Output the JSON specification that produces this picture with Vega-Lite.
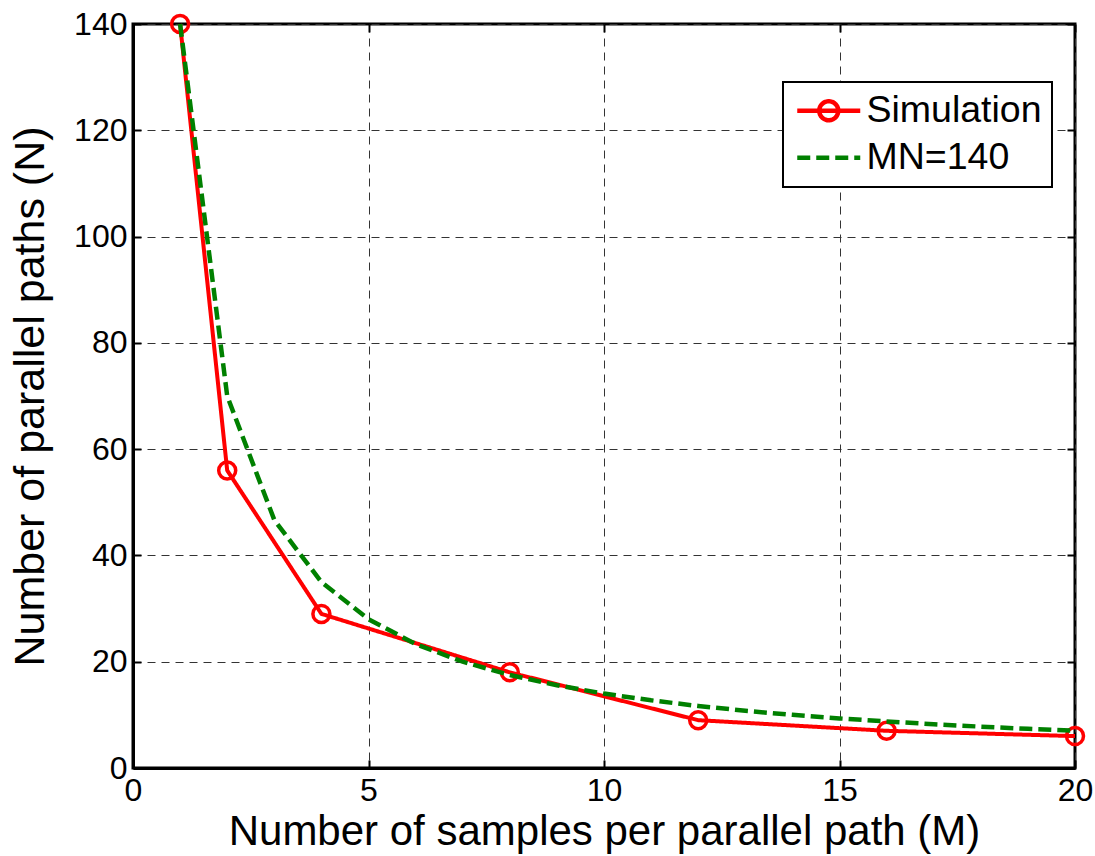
{
  "$schema": "https://vega.github.io/schema/vega-lite/v6.json",
  "width": 942,
  "height": 744,
  "autosize": "none",
  "padding": {"left": 133, "top": 24, "right": 20, "bottom": 88},
  "background": "white",
  "config": {
    "font": "Liberation Sans",
    "view": {"stroke": "black", "strokeWidth": 3},
    "axis": {
      "domainColor": "black", "domainWidth": 3,
      "tickColor": "black", "tickWidth": 2, "tickSize": -8,
      "labelFont": "Liberation Sans", "labelFontSize": 32, "labelColor": "black", "labelFlush": false,
      "titleFont": "Liberation Sans", "titleFontSize": 43, "titleFontWeight": "normal", "titleColor": "black",
      "gridColor": "#333333", "gridDash": [8, 6], "gridWidth": 1, "gridOpacity": 1
    },
    "legend": {
      "orient": "none", "legendX": 650, "legendY": 58,
      "padding": 10, "strokeColor": "black", "strokeWidth": 2, "fillColor": "white",
      "labelFont": "Liberation Sans", "labelFontSize": 37.5, "labelColor": "black", "labelLimit": 400,
      "symbolSize": 400, "symbolStrokeWidth": 4.5, "symbolFillColor": "transparent", "symbolOpacity": 1,
      "symbolOffset": 17, "labelOffset": 19, "rowPadding": 8
    }
  },
  "datasets": {
    "sim": [
      {"M": 1, "N": 140, "series": "Simulation"},
      {"M": 2, "N": 56, "series": "Simulation"},
      {"M": 4, "N": 29, "series": "Simulation"},
      {"M": 8, "N": 18, "series": "Simulation"},
      {"M": 12, "N": 9, "series": "Simulation"},
      {"M": 16, "N": 7, "series": "Simulation"},
      {"M": 20, "N": 6, "series": "Simulation"}
    ],
    "mn": [
      {"M": 1, "N": 140, "series": "MN=140"},
      {"M": 2, "N": 70, "series": "MN=140"},
      {"M": 3, "N": 46.67, "series": "MN=140"},
      {"M": 4, "N": 35, "series": "MN=140"},
      {"M": 5, "N": 28, "series": "MN=140"},
      {"M": 6, "N": 23.33, "series": "MN=140"},
      {"M": 7, "N": 20, "series": "MN=140"},
      {"M": 8, "N": 17.5, "series": "MN=140"},
      {"M": 9, "N": 15.56, "series": "MN=140"},
      {"M": 10, "N": 14, "series": "MN=140"},
      {"M": 11, "N": 12.73, "series": "MN=140"},
      {"M": 12, "N": 11.67, "series": "MN=140"},
      {"M": 13, "N": 10.77, "series": "MN=140"},
      {"M": 14, "N": 10, "series": "MN=140"},
      {"M": 15, "N": 9.33, "series": "MN=140"},
      {"M": 16, "N": 8.75, "series": "MN=140"},
      {"M": 17, "N": 8.24, "series": "MN=140"},
      {"M": 18, "N": 7.78, "series": "MN=140"},
      {"M": 19, "N": 7.37, "series": "MN=140"},
      {"M": 20, "N": 7, "series": "MN=140"}
    ]
  },
  "layer": [
    {
      "encoding": {
        "x": {"field": "M", "type": "quantitative",
              "scale": {"domain": [0, 20], "nice": false, "zero": false},
              "axis": {"orient": "bottom", "values": [0, 5, 10, 15, 20], "title": "Number of samples per parallel path (M)", "labelPadding": 15, "titlePadding": 5, "titleFontSize": 42}},
        "y": {"field": "N", "type": "quantitative",
              "scale": {"domain": [0, 140], "nice": false},
              "axis": {"orient": "left", "values": [0, 20, 40, 60, 80, 100, 120, 140], "title": "Number of parallel paths (N)", "labelPadding": 14, "titlePadding": 21}}
      },
      "layer": [
        {
          "data": {"name": "sim"},
          "mark": {"type": "line", "strokeWidth": 4, "opacity": 1},
          "encoding": {
            "color": {"field": "series", "type": "nominal", "scale": {"domain": ["Simulation", "MN=140"], "range": ["#ff0000", "#008000"]}, "legend": {"title": null}},
            "strokeDash": {"field": "series", "type": "nominal", "scale": {"domain": ["Simulation", "MN=140"], "range": [[1, 0], [13, 6]]}, "legend": {"title": null}}
          }
        },
        {
          "data": {"name": "sim"},
          "mark": {"type": "point", "shape": "circle", "filled": false, "size": 289, "strokeWidth": 3.5, "color": "#ff0000", "opacity": 1},
          "encoding": {}
        },
        {
          "data": {"name": "mn"},
          "mark": {"type": "line", "strokeWidth": 4.5, "opacity": 1},
          "encoding": {
            "color": {"field": "series", "type": "nominal", "scale": {"domain": ["Simulation", "MN=140"], "range": ["#ff0000", "#008000"]}, "legend": {"title": null}},
            "strokeDash": {"field": "series", "type": "nominal", "scale": {"domain": ["Simulation", "MN=140"], "range": [[1, 0], [13, 6]]}, "legend": {"title": null}}
          }
        }
      ]
    },
    {
      "data": {"name": "sim"},
      "transform": [{"filter": "false"}],
      "mark": {"type": "point", "filled": false, "strokeWidth": 4.5, "opacity": 1},
      "encoding": {
        "x": {"field": "M", "type": "quantitative",
              "axis": {"orient": "top", "values": [0, 5, 10, 15, 20], "labels": false, "grid": false, "domain": false, "title": null}},
        "y": {"field": "N", "type": "quantitative",
              "axis": {"orient": "right", "values": [0, 20, 40, 60, 80, 100, 120, 140], "labels": false, "grid": false, "domain": false, "title": null}},
        "shape": {"field": "series", "type": "nominal",
                  "scale": {"domain": ["Simulation", "MN=140"], "range": ["M-3.15,0H3.15M0.95,0A0.95,0.95 0 1,1 -0.95,0A0.95,0.95 0 1,1 0.95,0", "M-3.15,0H3.15"]},
                  "legend": {"title": null}},
        "color": {"field": "series", "type": "nominal", "legend": {"title": null}},
        "strokeDash": {"field": "series", "type": "nominal", "legend": {"title": null}}
      }
    }
  ],
  "resolve": {"axis": {"x": "independent", "y": "independent"}}
}
